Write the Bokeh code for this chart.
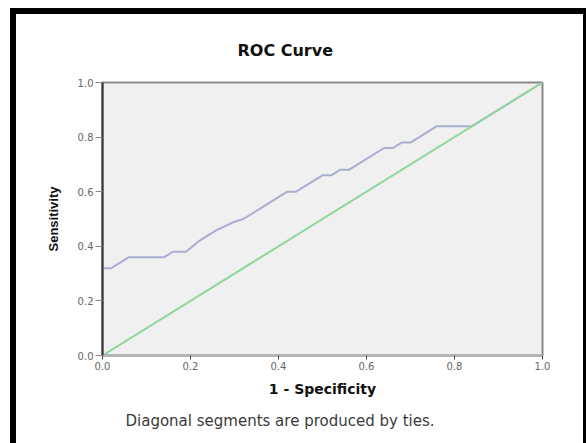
from bokeh.plotting import figure
from bokeh.models import Title, Range1d, FixedTicker
from bokeh.layouts import column
from bokeh.embed import file_html
from bokeh.resources import INLINE

# ---- data ----
fpr = [0.0, 0.0, 0.02, 0.04, 0.06, 0.14, 0.16, 0.19, 0.22, 0.26, 0.30, 0.32,
       0.36, 0.40, 0.42, 0.44, 0.50, 0.52, 0.54, 0.56, 0.60, 0.64, 0.66, 0.68,
       0.70, 0.76, 0.84, 1.0]
tpr = [0.0, 0.32, 0.32, 0.34, 0.36, 0.36, 0.38, 0.38, 0.42, 0.46, 0.49, 0.50,
       0.54, 0.58, 0.60, 0.60, 0.66, 0.66, 0.68, 0.68, 0.72, 0.76, 0.76, 0.78,
       0.78, 0.84, 0.84, 1.0]
ref_x = [0.0, 1.0]
ref_y = [0.0, 1.0]
ticks = [0.0, 0.2, 0.4, 0.6, 0.8, 1.0]
tick_labels = {0.0: "0.0", 0.2: "0.2", 0.4: "0.4", 0.6: "0.6", 0.8: "0.8", 1.0: "1.0"}
title_text = "ROC Curve"
x_label = "1 - Specificity"
y_label = "Sensitivity"
footnote = "Diagonal segments are produced by ties."

p = figure(width=567, height=429, output_backend="svg", toolbar_location=None,
           x_range=Range1d(0, 1), y_range=Range1d(0, 1),
           min_border_left=86, min_border_right=41,
           min_border_top=68, min_border_bottom=88)
p.background_fill_color = "#F0F0F0"
p.border_fill_color = "white"
p.grid.visible = False
p.outline_line_color = "#8a8a8a"
p.outline_line_width = 2

p.line(fpr, tpr, line_color="#A9ADD2", line_width=2)
p.line(ref_x, ref_y, line_color="#8ED69E", line_width=2)

for ax in (p.xaxis[0], p.yaxis[0]):
    ax.ticker = FixedTicker(ticks=ticks)
    ax.major_label_overrides = tick_labels
    ax.minor_tick_line_color = None
    ax.major_label_text_font = "DejaVu Sans"
    ax.major_label_text_font_size = "10px"
    ax.major_label_text_color = "#666666"
    ax.major_tick_in = 0
    ax.axis_label_text_font = "DejaVu Sans"
    ax.axis_label_text_font_style = "bold"
    ax.axis_label_text_color = "#111111"

p.xaxis.axis_label = x_label
p.xaxis.axis_line_color = "#b5b5b5"
p.xaxis.axis_line_width = 3
p.xaxis.major_tick_line_color = "#444444"
p.xaxis.major_tick_out = 4
p.xaxis.major_label_standoff = 2
p.xaxis.axis_label_standoff = 8
p.xaxis.axis_label_text_font_size = "14px"

p.yaxis.axis_label = y_label
p.yaxis.axis_line_color = "#333333"
p.yaxis.axis_line_width = 2
p.yaxis.major_tick_line_color = "#888888"
p.yaxis.major_tick_out = 7
p.yaxis.major_label_standoff = 2
p.yaxis.axis_label_standoff = 14
p.yaxis.axis_label_text_font = "Liberation Sans"
p.yaxis.axis_label_text_font_size = "13px"

p.title.text = title_text
p.title.align = "left"
p.title.offset = 135
p.title.standoff = 46
p.title.text_font = "DejaVu Sans"
p.title.text_font_style = "bold"
p.title.text_font_size = "16px"
p.title.text_color = "#111111"

p.add_layout(Title(text=footnote, align="left", offset=23, standoff=21,
                   text_font="DejaVu Sans", text_font_style="normal",
                   text_font_size="15px", text_color="#3a3a3a"), "below")

layout = column(p, styles={"border-left": "6px solid black",
                           "border-top": "6px solid black",
                           "border-right": "6px solid black",
                           "margin-left": "10px", "margin-top": "8px"})

open("out.html", "w").write(file_html(layout, INLINE))
